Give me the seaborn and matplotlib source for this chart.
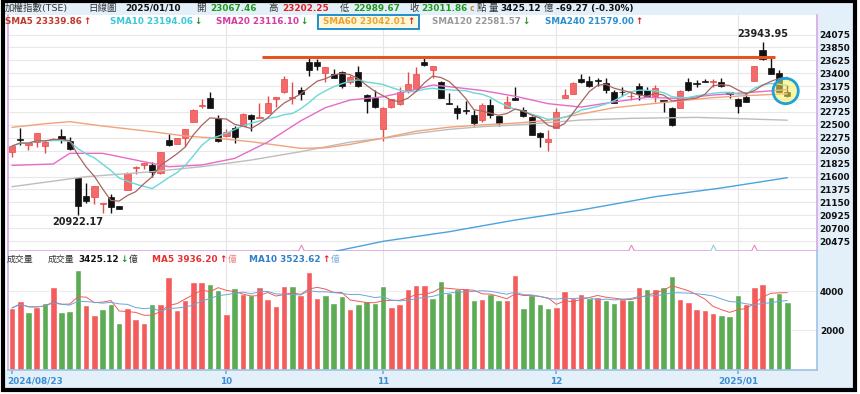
import matplotlib
matplotlib.use('Agg')
import matplotlib.pyplot as plt
import matplotlib.patches as patches
import numpy as np
import pandas as pd
import seaborn as sns

# TAIEX daily candles, 2024/08/23 .. 2025/01/10
opens = [22027, 22240, 22148, 22207, 22131, 22236, 22312, 22219, 21579, 21265,
         21248, 21120, 21248, 21085, 21364, 21742, 21794, 21800, 21655, 22236,
         22166, 22265, 22556, 22835, 22963, 22626, 22306, 22440, 22480, 22672,
         22620, 22713, 22945, 23067, 22963, 23108, 23602, 23590, 23410, 23381,
         23428, 23242, 23428, 23021, 22963, 22422, 22817, 22858, 23096, 23120,
         23590, 23457, 23253, 22870, 22800, 22760, 22672, 22585, 22846, 22655,
         22788, 22969, 22759, 22643, 22364, 22195, 22451, 22963, 23038, 23294,
         23265, 23276, 23224, 23079, 23070, 22995, 23178, 23108, 23003, 22920,
         22789, 22801, 23242, 23225, 23265, 23245, 23254, 23068, 22952, 22993,
         23266, 23806, 23498, 23399, 23067.46]
highs = [22140, 22440, 22178, 22352, 22230, 22270, 22422, 22283, 21579, 21480,
         21440, 21143, 21294, 21090, 21684, 21783, 21835, 21858, 22033, 22340,
         22280, 22422, 22770, 22945, 23067, 22672, 22422, 22480, 22700, 22689,
         22875, 23003, 22985, 23352, 23253, 23166, 23660, 23649, 23510, 23468,
         23440, 23370, 23527, 23030, 23108, 22817, 22950, 23166, 23416, 23503,
         23660, 23530, 23260, 23050, 22846, 22916, 22759, 22887, 22951, 22660,
         23003, 23155, 22805, 22650, 22370, 22410, 22788, 23120, 23250, 23381,
         23358, 23311, 23311, 23108, 23166, 23079, 23236, 23166, 23195, 22925,
         22818, 23109, 23312, 23283, 23300, 23300, 23312, 23080, 22963, 23050,
         23533, 23943.95, 23661, 23457, 23202.25]
lows = [21934, 22149, 22062, 22108, 22004, 22230, 22178, 22070, 20922.17, 21132,
        21120, 20960, 20969, 21030, 21364, 21643, 21724, 21585, 21640, 22140,
        22160, 22131, 22550, 22790, 22789, 22207, 22294, 22178, 22475, 22399,
        22620, 22701, 22817, 23060, 22858, 22934, 23358, 23457, 23253, 23311,
        23137, 23213, 23166, 22701, 22788, 22225, 22788, 22846, 23050, 23108,
        23527, 23311, 22963, 22858, 22602, 22690, 22480, 22556, 22614, 22480,
        22788, 22934, 22631, 22323, 22108, 22050, 22440, 22963, 23038, 23224,
        23155, 23178, 23050, 22875, 23003, 22934, 22934, 22992, 22905, 22730,
        22487, 22789, 23097, 23167, 23242, 23167, 23155, 22963, 22702, 22905,
        23266, 23632, 23382, 23050, 22989.67]
closes = [22131, 22236, 22178, 22352, 22207, 22259, 22236, 22079, 21085, 21172,
          21434, 21143, 21073, 21039, 21655, 21771, 21829, 21684, 22033, 22149,
          22277, 22422, 22759, 22853, 22800, 22219, 22381, 22294, 22689, 22602,
          22643, 22887, 22980, 23294, 22992, 23038, 23457, 23532, 23503, 23323,
          23178, 23340, 23184, 22916, 22806, 22788, 22945, 23079, 23213, 23387,
          23544, 23527, 22963, 22860, 22713, 22748, 22538, 22846, 22672, 22538,
          22893, 22940, 22660, 22323, 22283, 22254, 22730, 23021, 23230, 23245,
          23184, 23271, 23108, 22887, 23065, 23003, 23038, 23003, 23137, 22915,
          22498, 23091, 23109, 23220, 23242, 23254, 23178, 23039, 22830, 22905,
          23533, 23643, 23382, 23081, 23011.86]
# turnover, 億
volumes = [3146, 3522, 2941, 3181, 3420, 4189, 2941, 2975, 5061, 3317,
           2770, 3095, 3369, 2394, 3163, 2565, 2360, 3369, 3334, 4736,
           3027, 3540, 4480, 4480, 4343, 4052, 2856, 4138, 3882, 3830,
           4189, 3625, 3232, 4275, 4258, 3796, 4993, 3659, 3830, 3420,
           3762, 3078, 3334, 3488, 3403, 4258, 3181, 3334, 4087, 4309,
           4309, 3659, 4514, 3916, 4104, 4172, 3540, 3591, 3847, 3540,
           3540, 4822, 3163, 3796, 3334, 3146, 3198, 4018, 3659, 3847,
           3676, 3711, 3574, 3403, 3591, 3574, 4224, 4104, 4104, 4206,
           4771, 3591, 3454, 3112, 3061, 2907, 2770, 2736, 3796, 3369,
           4224, 4377, 3693, 3916, 3425.12]

# long moving averages, read at a few candles
sma20_idx = [0, 5, 7, 11, 15, 19, 23, 27, 31, 35, 38, 41, 45, 49, 51, 53, 57,
             61, 65, 69, 73, 77, 81, 85, 89, 94]
sma20_val = [21794, 21818, 22004, 22004, 21887, 21771, 21800, 21916, 22200,
             22570, 22800, 22934, 22990, 23120, 23195, 23166, 23100, 23000,
             22870, 22810, 22900, 22980, 22960, 23021, 23060, 23116.10]
sma60_idx = [0, 4, 7, 11, 17, 21, 25, 29, 35, 38, 41, 45, 49, 53, 57, 61, 65,
             69, 73, 77, 81, 85, 89, 94]
sma60_val = [22457, 22520, 22556, 22480, 22381, 22306, 22265, 22207, 22091,
             22100, 22160, 22270, 22390, 22460, 22500, 22530, 22580, 22690,
             22800, 22860, 22920, 22975, 23010, 23042.01]
sma120_idx = [0, 9, 17, 23, 29, 35, 41, 45, 49, 53, 57, 61, 65, 69, 75, 83,
              89, 94]
sma120_val = [21422, 21597, 21684, 21771, 21887, 22033, 22200, 22265, 22352,
              22422, 22469, 22498, 22540, 22585, 22614, 22631, 22605, 22581.57]
sma240_idx = [39, 45, 53, 61, 69, 78, 86, 94]
sma240_val = [20290, 20470, 20637, 20841, 21015, 21248, 21400, 21579.00]

price_ticks = [20475, 20700, 20925, 21150, 21375, 21600, 21825, 22050, 22275,
               22500, 22725, 22950, 23175, 23400, 23625, 23850, 24075]
vol_ticks = [2000, 4000]
month_idx = [0, 26, 45, 66, 88]
month_labels = ['2024/08/23', '10', '11', '12', '2025/01']

RESIST = 23690
RESIST_SPAN = (30.3, 92.5)
event_idx = [35, 75, 85, 90]
event_colors = ['#e58ac0', '#e58ac0', '#8fd0d8', '#e58ac0']

RED = '#f46a6a'
RED_EDGE = '#e84848'
BLACK = '#111111'
VRED = '#f45b5b'
VGREEN = '#5cab55'
UP_ARROW = '#e02020'
DN_ARROW = '#1f9a1f'
LIGHT_BLUE = '#e3f0fa'
GRAY = '#333333'

df = pd.DataFrame({'open': opens, 'high': highs, 'low': lows,
                   'close': closes, 'vol': volumes})
df['i'] = np.arange(len(df))
df['up'] = df['close'] >= df['open']
df['ma5'] = df['close'].rolling(5, min_periods=1).mean()
df['ma10'] = df['close'].rolling(10, min_periods=1).mean()
df['vma5'] = df['vol'].rolling(5, min_periods=1).mean()
df['vma10'] = df['vol'].rolling(10, min_periods=1).mean()
df['vdir'] = np.where(df['close'].diff().fillna(1) >= 0, 'up', 'down')

sns.set_theme(style='white')
plt.rcParams['font.family'] = ['DejaVu Sans', 'Noto Sans CJK TC']

W, H = 860, 394
fig = plt.figure(figsize=(W / 100, H / 100), dpi=100)


def add_ax(x0, y0, x1, y1, **kw):
    return fig.add_axes([x0 / W, 1 - y1 / H, (x1 - x0) / W, (y1 - y0) / H], **kw)


# background strips
bg = add_ax(0, 0, W, H, zorder=-5)
bg.set_xlim(0, W)
bg.set_ylim(H, 0)
bg.axis('off')
for (x, y, w, h) in [(5, 2, 848, 13), (817, 15, 36, 356), (5, 370, 848, 19)]:
    bg.add_patch(patches.Rectangle((x, y), w, h, color=LIGHT_BLUE, lw=0))

XLIM = (-0.48, 97.6)

# ---- price panel ----
ax = add_ax(8, 15, 817, 251)
ax.set_facecolor('white')
ax.set_xlim(*XLIM)
ax.set_ylim(20301, 24416)
for p in price_ticks:
    ax.axhline(p, color='#e8e8e8', lw=0.8, zorder=0)
for m in month_idx[1:]:
    ax.axvline(m, color='#e6e6e6', lw=0.8, zorder=0)

wick_colors = np.where(df['up'], RED_EDGE, BLACK)
ax.vlines(df['i'], df['low'], df['high'], colors=wick_colors, lw=1, zorder=3)
body_bottom = df[['open', 'close']].min(axis=1)
body_h = (df['close'] - df['open']).abs().clip(lower=14)
ax.bar(df['i'], body_h, bottom=body_bottom, width=0.75,
       color=np.where(df['up'], RED, BLACK),
       edgecolor=np.where(df['up'], RED_EDGE, BLACK), linewidth=0.5, zorder=3)

sns.lineplot(x=sma240_idx, y=sma240_val, ax=ax, color='#4aa3df', lw=1, zorder=4)
sns.lineplot(x=sma120_idx, y=sma120_val, ax=ax, color='#bdbdbd', lw=1, zorder=4)
sns.lineplot(x=sma60_idx, y=sma60_val, ax=ax, color='#f2a27a', lw=1, zorder=4)
sns.lineplot(x=sma20_idx, y=sma20_val, ax=ax, color='#e46cc8', lw=1, zorder=4)
sns.lineplot(data=df, x='i', y='ma10', ax=ax, color='#6ad8d8', lw=1, zorder=4)
sns.lineplot(data=df, x='i', y='ma5', ax=ax, color='#a86460', lw=0.9, zorder=4)

ax.hlines(RESIST, *RESIST_SPAN, color='#e5531f', lw=2.2, zorder=5)

last = df.iloc[-1]
ax.scatter([last['i'] - 0.2], [23090], s=330, facecolor='#f7ef5a', alpha=0.55,
           edgecolor='none', zorder=6)
ax.scatter([last['i'] - 0.2], [23090], s=330, facecolor='none',
           edgecolor='#1ea0dc', lw=2, zorder=6)

for e, c in zip(event_idx, event_colors):
    ax.scatter([e], [20360], marker='^', s=22, facecolor='white', edgecolor=c,
               lw=0.8, zorder=5)

hi = df['high'].idxmax()
lo = df['low'].idxmin()
ax.annotate(f"{df['high'][hi]:.2f}", (hi, df['high'][hi]), xytext=(0, 2),
            textcoords='offset points', ha='center', va='bottom',
            fontsize=7, fontweight='bold', color='#222222', zorder=7)
ax.annotate(f"{df['low'][lo]:.2f}", (lo, df['low'][lo]), xytext=(0, -1),
            textcoords='offset points', ha='center', va='top',
            fontsize=7, fontweight='bold', color='#222222', zorder=7)

ax.set_yticks(price_ticks)
ax.yaxis.tick_right()
ax.tick_params(axis='y', length=0, pad=1.5, labelsize=6.4, labelcolor='#111111')
for t in ax.get_yticklabels():
    t.set_fontweight('bold')
ax.set_xticks([])
ax.set_xlabel('')
ax.set_ylabel('')
for s in ['left', 'right', 'bottom']:
    ax.spines[s].set_color('#d9a6e6')
    ax.spines[s].set_linewidth(1.2)
ax.spines['top'].set_visible(False)

# ---- volume panel ----
ax2 = add_ax(8, 251, 817, 369.5)
ax2.set_facecolor('white')
for v in vol_ticks:
    ax2.axhline(v, color='#ececec', lw=0.8, zorder=0)
for m in month_idx[1:]:
    ax2.axvline(m, color='#e6e6e6', lw=0.8, zorder=0)
sns.barplot(data=df, x='i', y='vol', hue='vdir', native_scale=True, dodge=False,
            palette={'up': VRED, 'down': VGREEN}, saturation=1, width=0.8,
            legend=False, ax=ax2, zorder=2)
sns.lineplot(data=df, x='i', y='vma5', ax=ax2, color='#f25a5a', lw=0.7, zorder=3)
sns.lineplot(data=df, x='i', y='vma10', ax=ax2, color='#6aa6dc', lw=0.7, zorder=3)
ax2.set_xlim(*XLIM)
ax2.set_ylim(0, 6053)
ax2.set_yticks(vol_ticks)
ax2.yaxis.tick_right()
ax2.tick_params(axis='y', length=0, pad=2, labelsize=6.4, labelcolor='#111111')
for t in ax2.get_yticklabels():
    t.set_fontweight('bold')
ax2.set_xticks(month_idx)
ax2.set_xticklabels([])
ax2.tick_params(axis='x', direction='out', length=3, color='#7fb0dd', bottom=True)
for m, lab in zip(month_idx, month_labels):
    ax2.text(m if m else -0.55, -0.06, lab, transform=ax2.get_xaxis_transform(),
             ha='left' if m == 0 else 'center', va='top', fontsize=6.4,
             fontweight='bold', color='#3b8ed6')
ax2.set_xlabel('')
ax2.set_ylabel('')
ax2.spines['top'].set_visible(False)
ax2.spines['left'].set_color('#c9b6e8')
for s in ['right', 'bottom']:
    ax2.spines[s].set_color('#9dc3e6')
    ax2.spines[s].set_linewidth(1.2)

# ---- overlay: header texts and frame ----
ov = add_ax(0, 0, W, H, zorder=10)
ov.set_xlim(0, W)
ov.set_ylim(H, 0)
ov.axis('off')
ov.patch.set_alpha(0)
fig.canvas.draw()
renderer = fig.canvas.get_renderer()


def chain(y, items, gap=1.5):
    """place text pieces left to right; x is the wanted start, pushed right
    if the previous piece would overlap. returns (x0, x1) of every piece"""
    cur = 0
    spans = []
    for x, s, color, size, weight in items:
        x = max(x, cur + gap)
        t = ov.text(x, y, s, color=color, fontsize=size, fontweight=weight,
                    ha='left', va='center')
        bb = t.get_window_extent(renderer)
        cur = bb.x1
        spans.append((x, cur))
    return spans


NUM = 6.4
row1 = [(5, '加權指數(TSE)', GRAY, 6.8, 'normal'),
        (88, '日線圖', GRAY, 6.8, 'normal'),
        (125, '2025/01/10', '#111111', NUM, 'bold'),
        (196, '開', GRAY, 6.8, 'normal'),
        (210, '23067.46', DN_ARROW, NUM, 'bold'),
        (268, '高', GRAY, 6.8, 'normal'),
        (282, '23202.25', UP_ARROW, NUM, 'bold'),
        (340, '低', GRAY, 6.8, 'normal'),
        (353, '22989.67', DN_ARROW, NUM, 'bold'),
        (409, '收', GRAY, 6.8, 'normal'),
        (421, '23011.86', DN_ARROW, NUM, 'bold'),
        (469, 'c', '#c08a40', 5.6, 'bold'),
        (475, '點', GRAY, 6.8, 'normal'),
        (488, '量', GRAY, 6.8, 'normal'),
        (497, '3425.12', '#111111', NUM, 'bold'),
        (536, '億', GRAY, 6.8, 'normal'),
        (550, '-69.27 (-0.30%)', '#111111', NUM, 'bold')]
chain(8, row1, gap=2.5)

row2 = [(5, 'SMA5 23339.86', '#c0392b'), (110, 'SMA10 23194.06', '#3cc8d8'),
        (216, 'SMA20 23116.10', '#d63ba0'), (323, 'SMA60 23042.01', '#f0a030'),
        (432, 'SMA120 22581.57', '#999999'), (545, 'SMA240 21579.00', '#2a8fd0')]
row2_arrows = ['↑', '↓', '↓', '↑', '↓', '↑']
for (x, s, c), arr in zip(row2, row2_arrows):
    ac = UP_ARROW if arr == '↑' else DN_ARROW
    spans = chain(21.5, [(x, s, c, 6.3, 'bold'), (0, arr, ac, 6.3, 'bold')])
    if s.startswith('SMA60'):
        x0, x1 = spans[0][0], spans[1][1]
        ov.add_patch(patches.Rectangle((x0 - 5, 14.5), x1 - x0 + 9, 14,
                                       facecolor='#fff8d8', edgecolor='#1e90d0',
                                       lw=1.4, zorder=-1))

row3 = [(7, '成交量', GRAY, 6.4, 'normal'),
        (48, '成交量', GRAY, 6.4, 'normal'),
        (78, '3425.12', '#111111', 6.4, 'bold'),
        (0, '↓', DN_ARROW, 6.4, 'bold'),
        (0, '億', GRAY, 6.4, 'normal'),
        (152, 'MA5 3936.20', '#e83030', 6.4, 'bold'),
        (0, '↑', UP_ARROW, 6.4, 'bold'),
        (0, '億', '#f08080', 6.4, 'normal'),
        (249, 'MA10 3523.62', '#2f80c8', 6.4, 'bold'),
        (0, '↑', UP_ARROW, 6.4, 'bold'),
        (0, '億', '#80b0e0', 6.4, 'normal')]
chain(259, row3)

ov.add_patch(patches.Rectangle((3, 1), 852, 389, fill=False, edgecolor='black',
                               lw=3))

fig.savefig('out.png', dpi=100)
plt.close(fig)
